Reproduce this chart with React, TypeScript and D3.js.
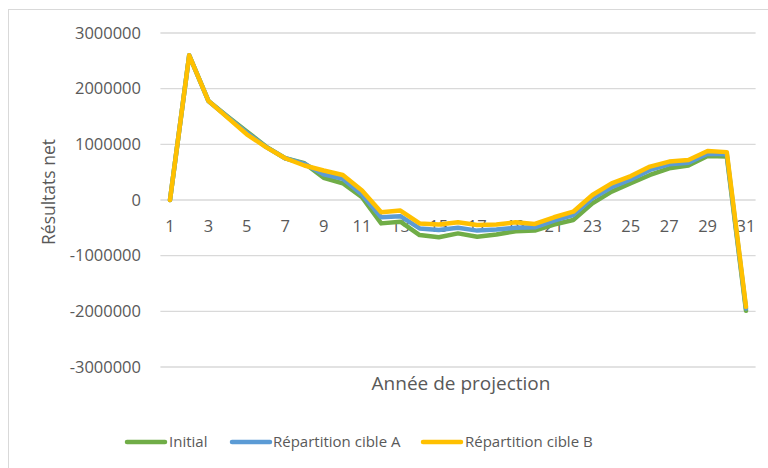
import React from "react";
import * as d3 from "d3";

const years: number[] = Array.from({ length: 31 }, (_, i) => i + 1);

const initial: number[] = [
  0, 2600000, 1780000, 1500000, 1230000, 960000, 750000, 660000, 400000, 300000,
  50000, -420000, -390000, -630000, -670000, -600000, -660000, -620000, -560000, -550000,
  -440000, -360000, -60000, 150000, 300000, 450000, 570000, 620000, 790000, 780000,
  -1990000,
];
const cibleA: number[] = [
  0, 2600000, 1780000, 1490000, 1210000, 955000, 750000, 650000, 460000, 380000,
  100000, -310000, -290000, -510000, -540000, -500000, -550000, -530000, -500000, -490000,
  -370000, -270000, 30000, 230000, 370000, 540000, 640000, 670000, 830000, 820000,
  -1950000,
];
const cibleB: number[] = [
  0, 2600000, 1780000, 1480000, 1180000, 950000, 750000, 620000, 530000, 450000,
  170000, -220000, -190000, -420000, -440000, -400000, -450000, -440000, -400000, -430000,
  -310000, -210000, 90000, 300000, 430000, 600000, 690000, 720000, 880000, 860000,
  -1920000,
];

const yTicks: number[] = [3000000, 2000000, 1000000, 0, -1000000, -2000000, -3000000];
const xTickLabels: number[] = years.filter((y) => y % 2 === 1);

const seriesNames: string[] = ["Initial", "Répartition cible A", "Répartition cible B"];
const seriesColors: string[] = ["#70AD47", "#5B9BD5", "#FFC000"];

export default function App() {
  const W = 768;
  const H = 468;
  const left = 160.4;
  const right = 755.6;
  const top = 33;
  const bottom = 367;
  const font = "'Open Sans', 'DejaVu Sans', sans-serif";
  const textColor = "#595959";

  const x = d3.scaleBand<number>().domain(years).range([left, right]).padding(0);
  const xc = (d: number) => (x(d) as number) + x.bandwidth() / 2;
  const y = d3.scaleLinear().domain([-3000000, 3000000]).range([bottom, top]);

  const line = d3
    .line<number>()
    .x((_, i) => xc(years[i]))
    .y((d) => y(d));

  const allSeries = [initial, cibleA, cibleB];

  const legendItems = [
    { x: 127, tx: 169 },
    { x: 232, tx: 273 },
    { x: 423, tx: 465 },
  ];

  return (
    <svg
      width={W}
      height={H}
      style={{ position: "absolute", left: 0, top: 0, background: "#fff" }}
    >
      <rect x={8.5} y={9.5} width={W + 10} height={H + 10} fill="#fff" stroke="#D9D9D9" strokeWidth={1} />
      {yTicks.map((t) => (
        <g key={t}>
          <line x1={left} x2={right} y1={y(t)} y2={y(t)} stroke="#D9D9D9" strokeWidth={1.3} />
          <text
            x={141}
            y={y(t)}
            dy="0.35em"
            textAnchor="end"
            fontFamily={font}
            fontSize={16.5}
            fill={textColor}
          >
            {t}
          </text>
        </g>
      ))}
      {xTickLabels.map((t) => (
        <text
          key={t}
          x={xc(t)}
          y={226}
          dy="0.35em"
          textAnchor="middle"
          fontFamily={font}
          fontSize={16.5}
          fill={textColor}
        >
          {t}
        </text>
      ))}
      {allSeries.map((s, i) => (
        <path
          key={i}
          d={line(s) as string}
          fill="none"
          stroke={seriesColors[i]}
          strokeWidth={4.5}
          strokeLinejoin="round"
          strokeLinecap="round"
        />
      ))}
      <text
        transform={`translate(49,${192}) rotate(-90)`}
        textAnchor="middle"
        dy="0.35em"
        fontFamily={font}
        fontSize={17.5}
        fill={textColor}
      >
        Résultats net
      </text>
      <text
        x={461}
        y={383}
        dy="0.35em"
        textAnchor="middle"
        fontFamily={font}
        fontSize={19}
        fill={textColor}
      >
        Année de projection
      </text>
      {seriesNames.map((n, i) => (
        <g key={n}>
          <line
            x1={legendItems[i].x}
            x2={legendItems[i].x + 38}
            y1={442}
            y2={442}
            stroke={seriesColors[i]}
            strokeWidth={4.5}
            strokeLinecap="round"
          />
          <text
            x={legendItems[i].tx}
            y={442}
            dy="0.35em"
            fontFamily={font}
            fontSize={15}
            fill={textColor}
          >
            {n}
          </text>
        </g>
      ))}
    </svg>
  );
}
